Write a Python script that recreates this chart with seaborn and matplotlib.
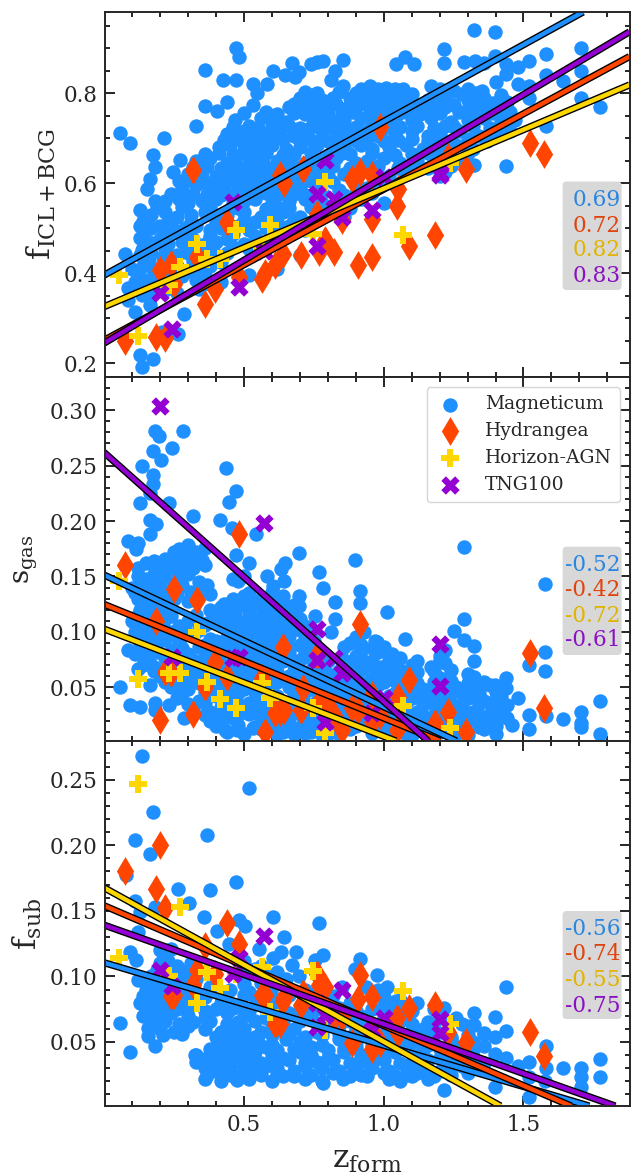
import numpy as np
import pandas as pd
import matplotlib
matplotlib.use("Agg")
import matplotlib.pyplot as plt
import matplotlib.patheffects as pe
from matplotlib.patches import FancyBboxPatch
from matplotlib.ticker import MultipleLocator
from matplotlib.transforms import IdentityTransform
import seaborn as sns

sims = ["Magneticum", "Hydrangea", "Horizon-AGN", "TNG100"]
sim_colors = ["dodgerblue", "orangered", "gold", "darkviolet"]
text_colors = ["#2a86e0", "#e0440e", "#e0b400", "#8a10c4"]
sim_markers = ["o", "d", "P", "X"]
sim_sizes = [108, 215, 175, 175]

# ---------- Magneticum: (z_form, value) pairs read per panel ----------
mag_top = [
 (.058,.712),(.094,.690),(.213,.701),(.175,.662),(.184,.636),(.247,.625),(.273,.651),(.165,.608),(.155,.586),(.184,.561),
 (.13,.539),(.13,.505),(.13,.478),(.076,.443),(.137,.451),(.086,.366),(.086,.34),(.112,.314),(.137,.351),(.165,.329),
 (.13,.218),(.137,.192),(.175,.21),(.266,.265),(.285,.31),(.209,.27),(.518,.396),(.618,.408),(.328,.726),(.36,.852),
 (.472,.90),(.482,.88),(.424,.828),(.472,.83),(.36,.772),(.403,.761),(.439,.78),(.532,.82),(.547,.80),(.532,.773),
 (.583,.82),(.604,.85),(.647,.84),(.673,.867),(.698,.847),(.683,.836),(.741,.865),(.763,.868),(.784,.872),(.856,.874),
 (.827,.849),(.813,.83),(.856,.815),(1.043,.865),(1.077,.881),(1.11,.864),(1.216,.898),(1.324,.94),(1.399,.935),(1.216,.866),
 (1.288,.87),(1.327,.872),(1.36,.866),(1.399,.883),(1.436,.865),(1.436,.843),(1.479,.858),(1.518,.872),(1.579,.886),(1.579,.839),
 (1.705,.9),(1.705,.848),(1.643,.826),(1.705,.79),(1.773,.77),(1.579,.726),(1.436,.637),(1.324,.641),(1.518,.79),(1.518,.816),
 (1.479,.82),(1.44,.78),(1.4,.824),
 (.92,.81),(.95,.815),(.98,.81),(1.01,.812),(1.04,.808),(1.07,.81),(1.17,.815),(1.2,.81),(1.25,.805),(1.3,.81),(1.35,.805),
 (.70,.79),(.74,.795),(.78,.785),(.82,.79),(.88,.79),(.92,.785),(.96,.79),(1.0,.795),(1.04,.785),(1.08,.79),(1.16,.785),(1.22,.79),(1.3,.785),(1.36,.79),(1.42,.795),
 (.66,.77),(.72,.765),(.8,.77),(.86,.765),(.9,.77),(.95,.765),(1.0,.77),(1.03,.765),(1.08,.77),(1.17,.765),(1.22,.77),(1.3,.765),(1.37,.77),(1.42,.76),
 (.47,.74),(.56,.745),(.6,.74),(.65,.735),(.75,.74),(.78,.745),(.83,.735),(.86,.74),(.92,.745),(.98,.74),(1.02,.735),(1.1,.74),(1.17,.745),(1.24,.735),(1.3,.74),(1.36,.745),(1.42,.735),(1.47,.74),
 (.44,.71),(.5,.715),(.53,.705),(.58,.71),(.62,.715),(.68,.705),(.72,.71),(.78,.715),(.84,.705),(.88,.71),(.94,.715),(.98,.705),(1.04,.71),(1.1,.715),(1.16,.705),(1.2,.71),(1.27,.715),(1.34,.705),(1.4,.71),(1.45,.715),
 (.41,.68),(.45,.685),(.5,.675),(.55,.68),(.6,.685),(.65,.675),(.7,.68),(.76,.685),(.82,.675),(.86,.68),(.92,.685),(.96,.675),(1.02,.68),(1.08,.685),(1.14,.675),(1.2,.68),(1.26,.685),(1.32,.675),
 (.33,.65),(.38,.655),(.44,.645),(.47,.65),(.52,.655),(.57,.645),(.62,.65),(.66,.655),(.72,.645),(.77,.65),(.83,.655),(.9,.645),(.94,.65),(1.0,.655),(1.06,.645),(1.12,.65),(1.18,.655),(1.24,.645),(1.28,.65),
 (.3,.62),(.35,.625),(.4,.615),(.45,.62),(.48,.625),(.52,.615),(.56,.62),(.6,.625),(.66,.615),(.72,.62),(.76,.625),(.8,.615),(.86,.62),(.96,.625),(1.02,.615),(1.08,.62),(1.2,.615),(1.22,.625),
 (.28,.59),(.33,.595),(.38,.585),(.42,.59),(.48,.595),(.52,.585),(.56,.59),(.62,.595),(.66,.585),(.7,.59),(.76,.595),(.84,.585),(.94,.59),(1.04,.595),
 (.22,.56),(.27,.565),(.3,.555),(.35,.56),(.4,.565),(.46,.555),(.5,.56),(.54,.565),(.6,.555),(.66,.56),(.72,.565),(.78,.555),(.84,.56),(.92,.565),(1.0,.555),
 (.17,.53),(.22,.535),(.26,.525),(.31,.53),(.36,.535),(.4,.525),(.44,.53),(.5,.535),(.56,.525),(.6,.53),(.64,.535),(.7,.525),(.76,.53),(.82,.535),(.86,.525),
 (.17,.50),(.2,.505),(.25,.495),(.29,.50),(.33,.505),(.38,.495),(.42,.50),(.48,.505),(.52,.495),(.58,.50),(.66,.505),(.72,.495),
 (.16,.47),(.2,.475),(.23,.465),(.28,.47),(.32,.475),(.36,.465),(.4,.47),(.44,.475),(.5,.465),(.56,.47),(.62,.475),
 (.13,.44),(.17,.445),(.21,.435),(.26,.44),(.3,.445),(.35,.435),(.4,.44),(.44,.445),(.7,.44),
 (.1,.41),(.14,.415),(.18,.405),(.22,.41),(.26,.415),(.3,.405),(.34,.41),(.38,.415),
 (.11,.38),(.15,.385),(.19,.375),(.24,.38),(.33,.385),(.38,.375),(.42,.38),(.16,.35),(.26,.355),
]
mag_top_more = [
 (.9,.80),(.94,.802),(.97,.798),(1.03,.80),(1.06,.803),(1.1,.798),(1.19,.80),(1.23,.802),(1.28,.798),(1.33,.80),(.72,.803),(.76,.80),(.84,.802),
 (.68,.775),(.74,.778),(.77,.772),(.83,.776),(.88,.774),(.93,.778),(.97,.772),(1.01,.775),(1.05,.778),(1.1,.772),(1.14,.775),(1.2,.777),(1.25,.773),(1.33,.775),(1.39,.777),
 (.5,.755),(.58,.757),(.62,.753),(.68,.756),(.72,.754),(.76,.757),(.8,.753),(.85,.755),(.89,.757),(.95,.753),(1.0,.756),(1.05,.754),(1.08,.757),(1.13,.753),(1.2,.755),(1.27,.757),(1.33,.753),(1.39,.755),(1.45,.757),
 (.46,.725),(.52,.727),(.55,.723),(.6,.726),(.64,.724),(.66,.727),(.7,.723),(.74,.725),(.8,.727),(.82,.723),(.86,.726),(.9,.724),(.96,.727),(1.0,.723),(1.06,.725),(1.12,.727),(1.18,.723),(1.22,.726),(1.25,.724),(1.32,.727),(1.38,.723),(1.43,.725),
 (.43,.695),(.48,.697),(.52,.693),(.56,.696),(.6,.694),(.64,.697),(.7,.693),(.74,.695),(.78,.697),(.8,.693),(.84,.696),(.9,.694),(.94,.697),(1.0,.693),(1.05,.695),(1.1,.697),(1.16,.693),(1.18,.696),(1.24,.694),(1.3,.697),(1.37,.693),
 (.36,.665),(.41,.667),(.46,.663),(.5,.666),(.54,.664),(.58,.667),(.64,.663),(.68,.665),(.74,.667),(.8,.663),(.85,.666),(.88,.664),(.96,.667),(1.04,.663),(1.1,.665),(1.16,.667),(1.22,.663),(1.3,.666),
 (.32,.635),(.37,.637),(.42,.633),(.46,.636),(.5,.634),(.54,.637),(.58,.633),(.64,.635),(.68,.637),(.7,.633),(.74,.636),(.78,.634),(.82,.637),(.88,.633),(.93,.635),(.98,.637),(1.05,.633),(1.1,.636),(1.16,.634),(1.24,.637),
 (.27,.605),(.31,.607),(.36,.603),(.4,.606),(.44,.604),(.5,.607),(.54,.603),(.58,.605),(.6,.607),(.64,.603),(.68,.606),(.74,.604),(.78,.607),(.82,.603),(.9,.605),(.98,.607),(1.0,.603),
 (.24,.575),(.28,.577),(.32,.573),(.37,.576),(.42,.574),(.44,.577),(.48,.573),(.52,.575),(.58,.577),(.62,.573),(.68,.576),(.72,.574),(.78,.577),(.86,.573),(.9,.575),(.96,.577),
 (.19,.547),(.28,.546),(.38,.547),(.48,.545),(.58,.543),(.62,.546),(.66,.544),(.74,.547),(.8,.543),(.88,.545),
 (.14,.515),(.23,.513),(.31,.514),(.4,.513),(.5,.517),(.54,.513),(.6,.516),(.62,.514),(.68,.517),(.74,.513),
 (.14,.485),(.22,.483),(.3,.484),(.38,.483),(.46,.487),(.54,.483),(.6,.486),(.64,.484),
 (.14,.455),(.22,.453),(.3,.454),(.38,.453),(.46,.457),(.52,.453),
 (.16,.427),(.24,.426),(.32,.427),(.42,.425),
 (.12,.395),(.2,.393),(.28,.394),(.36,.393),
 (.13,.365),(.22,.363),(.34,.364),
]
mag_mid = [
 (.283,.2816),(.184,.2813),(.197,.277),(.245,.266),(.176,.263),(.204,.255),(.137,.25),(.176,.242),(.176,.233),(.165,.225),
 (.233,.216),(.13,.216),(.436,.248),(.472,.227),(.446,.217),(.317,.205),(.414,.201),(.165,.201),(.187,.197),(.165,.188),
 (.458,.1935),(.544,.188),(.086,.182),(.122,.18),(.115,.175),(.698,.1715),(1.288,.177),(.899,.165),(1.578,.143),(.77,.154),
 (.647,.162),(.633,.157),(.518,.162),(.472,.169),(.645,.146),(.583,.15),(.604,.141),(.784,.14),(.917,.137),(.917,.126),
 (.827,.127),(.698,.132),(.698,.123),(1.012,.118),(.755,.114),(.827,.112),(.813,.0996),(.931,.0996),(1.252,.101),(1.288,.093),
 (1.288,.112),(1.324,.0876),(1.324,.0738),(1.076,.0936),(.978,.091),(1.216,.083),(1.578,.082),(1.578,.065),(1.518,.07),(1.773,.0377),
 (1.773,.0076),(1.705,.028),(1.705,.0175),(1.705,.0145),(1.643,.021),(1.579,.0245),(1.518,.025),(1.518,.012),(1.479,.04),(1.436,.058),
 (1.436,.049),(1.399,.052),(1.36,.0536),(1.324,.0596),(.058,.0506),(.086,.0837),(.122,.0665),(.165,.052),(.094,.034),(.13,.0325),
 (.184,.0355),(.184,.0295),(.233,.034),(.285,.0226),(.532,.013),(.432,.0115),(.475,.0115),
 (.25,.172),(.27,.175),(.3,.178),(.33,.172),(.36,.176),
 (.12,.158),(.15,.162),(.2,.158),(.24,.16),(.26,.156),(.29,.162),(.32,.158),(.36,.16),
 (.12,.15),(.15,.148),(.18,.152),(.22,.15),(.27,.148),(.3,.152),(.46,.148),(.5,.15),
 (.1,.14),(.13,.138),(.17,.142),(.2,.14),(.24,.138),(.28,.142),(.36,.138),(.37,.142),
 (.12,.13),(.15,.128),(.18,.132),(.25,.13),(.3,.128),(.46,.13),(.5,.132),(.53,.128),(.56,.13),(.64,.132),
 (.13,.12),(.17,.118),(.2,.122),(.38,.12),(.42,.122),(.47,.118),(.52,.12),(.56,.122),(.6,.118),(.64,.12),(.66,.122),
 (.1,.11),(.16,.108),(.22,.112),(.3,.11),(.37,.108),(.41,.112),(.48,.11),(.5,.108),(.55,.112),(.6,.11),(.66,.108),(.7,.112),
 (.11,.10),(.15,.098),(.19,.102),(.24,.10),(.3,.098),(.34,.102),(.48,.10),(.52,.098),(.56,.102),(.6,.10),(.64,.098),(.7,.102),(.74,.10),
 (.13,.09),(.17,.088),(.2,.092),(.27,.09),(.36,.088),(.4,.092),(.46,.09),(.52,.088),(.58,.092),(.63,.09),(.7,.088),(.75,.092),(.88,.09),(.92,.088),(.97,.092),
 (.11,.08),(.15,.078),(.19,.082),(.3,.08),(.36,.078),(.42,.082),(.5,.08),(.56,.078),(.66,.082),(.72,.08),(.9,.078),(.98,.082),(1.03,.08),(1.2,.078),
 (.14,.07),(.18,.068),(.24,.072),(.3,.07),(.34,.068),(.42,.072),(.48,.07),(.54,.068),(.6,.072),(.68,.07),(.76,.068),(.88,.072),(.94,.07),(.99,.068),(1.04,.072),(1.1,.07),(1.17,.068),(1.22,.072),
 (.2,.06),(.3,.058),(.36,.062),(.44,.06),(.52,.058),(.6,.062),(.66,.06),(.72,.058),(.8,.062),(.9,.06),(.96,.058),(1.02,.062),(1.08,.06),(1.2,.058),(1.3,.062),
 (.24,.05),(.3,.048),(.38,.052),(.44,.05),(.5,.048),(.58,.052),(.66,.05),(.74,.048),(.8,.052),(.86,.05),(.92,.048),(.98,.052),(1.06,.05),(1.14,.048),(1.2,.052),(1.26,.05),(1.32,.048),(1.38,.052),
 (.26,.04),(.34,.038),(.4,.042),(.46,.04),(.56,.038),(.62,.042),(.7,.04),(.76,.038),(.82,.042),(.88,.04),(.94,.038),(1.02,.042),(1.1,.04),(1.16,.038),(1.22,.042),(1.3,.04),(1.36,.038),(1.42,.042),
 (.32,.03),(.38,.028),(.42,.032),(.5,.03),(.54,.028),(.6,.032),(.68,.03),(.74,.028),(.8,.032),(.86,.03),(.92,.028),(1.0,.032),(1.06,.03),(1.12,.028),(1.2,.032),(1.26,.03),(1.32,.028),(1.4,.032),
 (.38,.02),(.42,.018),(.46,.022),(.56,.02),(.62,.018),(.66,.022),(.72,.02),(.78,.018),(.84,.022),(.92,.02),(.98,.018),(1.04,.022),(1.1,.02),(1.16,.018),(1.24,.022),(1.3,.02),(1.36,.018),(1.44,.022),
 (.44,.01),(.5,.008),(.56,.012),(.64,.01),(.68,.008),(.7,.012),(.74,.01),(.8,.008),(.88,.012),(1.02,.01),(1.08,.008),(1.14,.012),(1.2,.01),(1.26,.008),(1.36,.012),
]
mag_mid_more = [
 (.26,.165),(.29,.167),(.32,.163),(.35,.165),(.22,.166),(.18,.164),
 (.14,.145),(.2,.146),(.25,.144),(.34,.145),(.48,.146),
 (.11,.135),(.15,.136),(.22,.134),(.26,.135),(.31,.136),(.38,.134),(.52,.135),(.6,.136),
 (.14,.125),(.16,.126),(.22,.124),(.43,.125),(.45,.126),(.5,.124),(.58,.125),(.62,.126),(.68,.124),
 (.12,.115),(.19,.116),(.24,.114),(.33,.115),(.4,.116),(.44,.114),(.52,.115),(.58,.116),(.62,.114),(.68,.115),
 (.13,.105),(.18,.106),(.21,.104),(.27,.105),(.36,.106),(.44,.104),(.46,.105),(.52,.106),(.54,.104),(.58,.105),(.62,.106),(.68,.104),(.72,.105),
 (.12,.095),(.16,.096),(.22,.094),(.26,.095),(.32,.096),(.38,.094),(.44,.095),(.5,.096),(.56,.094),(.62,.095),(.66,.096),(.72,.094),(.9,.095),
 (.14,.085),(.18,.086),(.24,.084),(.28,.085),(.34,.086),(.4,.084),(.44,.085),(.48,.086),(.54,.084),(.6,.085),(.66,.086),(.72,.084),(.76,.085),(.86,.086),(.92,.084),(.96,.085),(1.0,.086),(1.22,.084),
 (.16,.075),(.22,.076),(.28,.074),(.32,.075),(.38,.076),(.46,.074),(.52,.075),(.58,.076),(.64,.074),(.7,.075),(.74,.076),(.8,.074),(.86,.075),(.92,.076),(.96,.074),(1.02,.075),(1.06,.076),(1.12,.074),(1.2,.075),
 (.18,.065),(.22,.066),(.26,.064),(.32,.065),(.4,.066),(.46,.064),(.5,.065),(.56,.066),(.62,.064),(.68,.065),(.74,.066),(.78,.064),(.84,.065),(.92,.066),(.98,.064),(1.0,.065),(1.06,.066),(1.12,.064),(1.18,.065),(1.24,.066),
 (.22,.055),(.28,.056),(.34,.054),(.4,.055),(.48,.056),(.54,.054),(.62,.055),(.7,.056),(.76,.054),(.84,.055),(.88,.056),(.94,.054),(1.0,.055),(1.04,.056),(1.12,.054),(1.18,.055),(1.24,.056),(1.3,.054),(1.36,.055),
 (.28,.045),(.36,.046),(.42,.044),(.48,.045),(.54,.046),(.6,.044),(.68,.045),(.72,.046),(.78,.044),(.84,.045),(.9,.046),(.96,.044),(1.04,.045),(1.08,.046),(1.12,.044),(1.18,.045),(1.24,.046),(1.28,.044),(1.34,.045),(1.4,.046),
 (.3,.035),(.36,.036),(.44,.034),(.48,.035),(.52,.036),(.58,.034),(.64,.035),(.72,.036),(.78,.034),(.84,.035),(.9,.036),(.96,.034),(1.04,.035),(1.08,.036),(1.14,.034),(1.18,.035),(1.24,.036),(1.28,.034),(1.34,.035),(1.38,.036),(1.44,.034),
 (.36,.025),(.4,.026),(.44,.024),(.48,.025),(.52,.026),(.58,.024),(.64,.025),(.7,.026),(.76,.024),(.82,.025),(.88,.026),(.94,.024),(1.0,.025),(1.08,.026),(1.14,.024),(1.18,.025),(1.22,.026),(1.28,.024),(1.34,.025),(1.38,.026),(1.42,.024),
 (.4,.015),(.48,.016),(.54,.014),(.6,.015),(.66,.016),(.7,.014),(.76,.015),(.82,.016),(.86,.014),(.9,.015),(.96,.016),(1.0,.014),(1.06,.015),(1.12,.016),(1.18,.014),(1.22,.015),(1.28,.016),(1.34,.014),(1.4,.015),(1.46,.016),
 (.62,.008),(.72,.009),(.78,.007),(.84,.008),(.96,.009),(1.1,.007),(1.18,.008),(1.24,.009),(1.3,.007),(1.4,.008),
]
mag_bot = [
 (.137,.268),(.518,.244),(.175,.225),(.367,.208),(.112,.204),(.165,.193),(.472,.172),(.263,.1665),(.378,.166),(.079,.177),
 (.112,.1575),(.305,.156),(.184,.153),(.13,.149),(.357,.145),(.604,.145),(.77,.1405),(.482,.143),(.506,.1385),(.403,.135),
 (.122,.134),(.645,.13),(.446,.125),(.554,.121),(.633,.119),(.686,.119),(.604,.114),(.784,.116),(.917,.113),(.755,.1125),
 (.094,.119),(.115,.1125),(.673,.109),(.619,.1035),(.896,.1057),(.698,.1),(.978,.101),(.122,.097),(.938,.092),(1.012,.0917),
 (1.436,.0917),(1.043,.081),(1.216,.0757),(1.324,.072),(1.399,.069),(.058,.0647),(.094,.042),(.158,.0604),(.158,.0546),(.184,.047),
 (1.324,.063),(1.36,.0566),(1.399,.054),(1.436,.0586),(1.579,.047),(1.36,.047),(1.399,.041),(1.436,.038),(1.479,.032),(1.518,.0345),
 (1.518,.0078),(1.579,.03),(1.643,.03),(1.705,.03),(1.705,.023),(1.705,.016),(1.773,.037),(1.773,.023),(1.576,.02),(1.518,.023),
 (1.399,.0154),(1.216,.0134),(.475,.021),(.784,.0185),(.856,.022),(.324,.04),
 (.2,.11),(.23,.112),(.26,.108),(.31,.11),(.5,.112),(.56,.108),
 (.17,.10),(.2,.098),(.24,.102),(.29,.10),(.33,.098),(.5,.102),(.58,.10),(.65,.098),
 (.15,.09),(.19,.088),(.22,.092),(.27,.09),(.31,.088),(.38,.092),(.45,.09),(.52,.088),(.6,.092),(.72,.09),(.76,.088),(.85,.092),(.98,.09),
 (.13,.08),(.17,.078),(.2,.082),(.24,.08),(.28,.078),(.34,.082),(.42,.08),(.48,.078),(.55,.082),(.62,.08),(.72,.078),(.8,.082),(.88,.08),(1.0,.078),(1.06,.082),(1.12,.08),
 (.14,.07),(.19,.068),(.24,.072),(.3,.07),(.36,.068),(.44,.072),(.5,.07),(.58,.068),(.66,.072),(.74,.07),(.8,.068),(.86,.072),(.92,.07),(1.0,.068),(1.08,.072),(1.2,.07),(1.26,.068),
 (.2,.06),(.25,.058),(.3,.062),(.36,.06),(.42,.058),(.46,.062),(.5,.06),(.56,.058),(.62,.062),(.68,.06),(.76,.058),(.84,.062),(.9,.06),(.96,.058),(1.02,.062),(1.14,.06),(1.2,.058),(1.3,.062),
 (.42,.05),(.46,.048),(.5,.052),(.55,.05),(.6,.048),(.65,.052),(.7,.05),(.78,.048),(.84,.052),(.9,.05),(.96,.048),(1.04,.052),(1.1,.05),(1.16,.048),(1.24,.052),(1.32,.05),
 (.33,.04),(.37,.038),(.4,.042),(.44,.04),(.48,.038),(.54,.042),(.6,.04),(.64,.038),(.7,.042),(.74,.04),(.8,.038),(.86,.042),(.92,.04),(.98,.038),(1.04,.042),(1.12,.04),(1.2,.038),(1.28,.042),
 (.36,.03),(.4,.028),(.45,.032),(.5,.03),(.54,.028),(.58,.032),(.62,.03),(.68,.028),(.72,.032),(.78,.03),(.84,.028),(.9,.032),(.96,.03),(1.02,.028),(1.08,.032),(1.14,.03),(1.2,.028),(1.28,.032),
 (.36,.022),(.42,.02),(.46,.024),(.52,.022),(.6,.02),(.64,.024),(.72,.022),(.78,.02),(.94,.024),(1.02,.022),(1.06,.02),(1.1,.024),(1.16,.022),
]
mag_bot_more = [
 (.2,.12),(.24,.121),
 (.19,.105),(.22,.106),(.26,.104),(.3,.105),(.54,.106),
 (.16,.095),(.18,.096),(.22,.094),(.26,.095),(.32,.096),(.5,.094),(.56,.095),(.62,.096),
 (.14,.085),(.18,.086),(.22,.084),(.26,.085),(.3,.086),(.36,.084),(.42,.085),(.5,.086),(.54,.084),(.6,.085),(.66,.086),(.74,.084),(.82,.085),(.96,.086),(1.0,.084),
 (.15,.075),(.18,.076),(.22,.074),(.26,.075),(.3,.076),(.36,.074),(.4,.075),(.46,.076),(.52,.074),(.58,.075),(.64,.076),(.7,.074),(.76,.075),(.84,.076),(.9,.074),(.96,.075),(1.04,.076),(1.1,.074),(1.18,.075),
 (.17,.065),(.22,.066),(.27,.064),(.32,.065),(.38,.066),(.44,.064),(.48,.065),(.54,.066),(.6,.064),(.64,.065),(.7,.066),(.76,.064),(.82,.065),(.88,.066),(.94,.064),(1.0,.065),(1.06,.066),(1.1,.064),(1.16,.065),(1.22,.066),(1.28,.064),
 (.21,.055),(.28,.056),(.4,.054),(.44,.055),(.48,.056),(.54,.054),(.6,.055),(.66,.056),(.72,.054),(.78,.055),(.84,.056),(.88,.054),(.94,.055),(1.0,.056),(1.06,.054),(1.12,.055),(1.18,.056),(1.24,.054),(1.3,.055),(1.36,.056),
 (.38,.045),(.43,.046),(.48,.044),(.52,.045),(.58,.046),(.62,.044),(.68,.045),(.74,.046),(.8,.044),(.86,.045),(.9,.046),(.96,.044),(1.02,.045),(1.08,.046),(1.14,.044),(1.2,.045),(1.26,.046),(1.32,.044),
 (.33,.035),(.38,.036),(.42,.034),(.46,.035),(.52,.036),(.56,.034),(.62,.035),(.66,.036),(.72,.034),(.76,.035),(.82,.036),(.88,.034),(.94,.035),(1.0,.036),(1.06,.034),(1.1,.035),(1.16,.036),(1.22,.034),(1.26,.035),(1.32,.036),(1.36,.034),
 (.37,.025),(.43,.026),(.48,.024),(.56,.025),(.62,.026),(.68,.024),(.74,.025),(.82,.026),(.88,.024),(.92,.025),(1.0,.026),(1.04,.024),(1.08,.025),(1.12,.026),(1.18,.024),(1.24,.025),(1.3,.026),
]

# ---------- Hydrangea ----------
hyd_z = [.077,.185,.202,.219,.238,.252,.317,.331,.363,.396,.439,.483,.566,.576,.612,.641,.630,.645,.706,.713,
         .763,.770,.789,.821,.850,.886,.910,.917,.960,.960,.960,.986,1.048,1.051,1.090,1.185,1.231,1.296,1.523,1.573]
hyd_top = [.250,.258,.406,.256,.421,.376,.630,.436,.332,.365,.513,.391,.387,.400,.417,.443,.617,.599,.441,.632,
           .532,.447,.473,.447,.517,.610,.417,.624,.436,.617,.521,.724,.548,.587,.461,.484,.658,.632,.689,.665]
hyd_mid = [.160,.110,.0205,.064,.0626,.139,.0256,.129,.0506,.073,.0596,.188,.0587,.010,.0265,.0867,.028,.0295,.0295,.049,
           .079,.037,.0356,.025,.0115,.031,.0295,.107,.043,.025,.019,.025,.0115,.0416,.0566,.0175,.0274,.010,.0807,.0316]
hyd_bot = [.180,.167,.200,.152,.085,.086,.0935,.105,.123,.102,.1405,.125,.086,.086,.064,.081,.064,.0846,.078,.087,
           .102,.0935,.092,.069,.069,.049,.083,.101,.0846,.045,.059,.049,.068,.0566,.0757,.078,.058,.050,.058,.039]

# ---------- Horizon-AGN ----------
hor_z = [.055,.123,.234,.271,.331,.367,.415,.472,.566,.593,.746,.789,1.070,1.239]
hor_top = [.395,.259,.373,.413,.465,.432,.432,.495,.454,.506,.487,.602,.485,.645]
hor_mid = [.146,.0575,.0626,.0626,.100,.0545,.0395,.0316,.0536,.040,.031,.0085,.033,.013]
hor_bot = [.114,.2468,.100,.153,.080,.103,.091,.102,.1075,.073,.104,.059,.089,.064]

# ---------- TNG100 ----------
tng_z = [.202,.242,.461,.483,.572,.760,.760,.792,.821,.850,.960,1.000,1.202,1.202]
tng_top = [.356,.276,.558,.370,.450,.576,.459,.652,.564,.524,.539,.613,.622,.617]
tng_mid = [.304,.0777,.076,.0777,.1986,.103,.0747,.019,.076,.0626,.0265,.040,.0888,.051]
tng_bot = [.105,.0927,.102,.114,.131,.0795,.0617,.0706,.072,.090,.059,.068,.0673,.0566]

# ---------- fit line end points, in plot order Magneticum..TNG100 ----------
fit_top_x = [(0, 1.713), (0, 1.879), (0, 1.879), (0, 1.879)]
fit_top_y = [(.395, .98), (.2505, .881), (.325, .818), (.244, .936)]
fit_mid_x = [(0, 1.26), (0, 1.202), (0, 1.044), (0, 1.159)]
fit_mid_y = [(.1514, .0015), (.1249, .0015), (.1026, .0015), (.262, .0015)]
fit_bot_x = [(0, 1.735), (0, 1.67), (0, 1.418), (0, 1.828)]
fit_bot_y = [(.1105, .0012), (.154, .0012), (.1677, .0012), (.1392, .0012)]

corr_top = ["0.69", "0.72", "0.82", "0.83"]
corr_mid = ["-0.52", "-0.42", "-0.72", "-0.61"]
corr_bot = ["-0.56", "-0.74", "-0.55", "-0.75"]

ylabels = [r"$\mathrm{f_{ICL+BCG}}$", r"$\mathrm{s_{gas}}$", r"$\mathrm{f_{sub}}$"]
ylabel_sizes = [23, 20, 22.5]
ylabel_right_px = [58, 40, 44]
ylims = [(.169, .98), (.0015, .33), (.0012, .2795)]
y_major = [.2, .05, .05]
y_minor = [.05, .01, .01]
y_fmt = ["%.1f", "%.2f", "%.2f"]
x_label = r"$\mathrm{z_{form}}$"

sns.set_theme(style="ticks")
plt.rcParams["font.family"] = ["DejaVu Serif"]
plt.rcParams["mathtext.fontset"] = "dejavuserif"

W, H = 631, 1173
fig = plt.figure(figsize=(W / 100, H / 100), dpi=100)
pane_px = [(12, 377), (377, 741), (741, 1106)]
L, R = 104.5, 629.5
axes = [fig.add_axes([L / W, 1 - b / H, (R - L) / W, (b - t) / H]) for t, b in pane_px]

panels = [
    (mag_top + mag_top_more, hyd_top, hor_top, tng_top, fit_top_x, fit_top_y, corr_top),
    (mag_mid + mag_mid_more, hyd_mid, hor_mid, tng_mid, fit_mid_x, fit_mid_y, corr_mid),
    (mag_bot + mag_bot_more, hyd_bot, hor_bot, tng_bot, fit_bot_x, fit_bot_y, corr_bot),
]
box_px = [(181.5, 290), (546.7, 655), (911, 1019)]
text_px = [(197, 223, 248, 274), (562.7, 588, 613, 638), (926.7, 952, 977.7, 1003)]
text_right = 620.5

for i, (ax, p) in enumerate(zip(axes, panels)):
    mag, hyd, hor, tng, fx, fy, corr = p
    mdf = pd.DataFrame(mag, columns=["z", "v"])
    groups = [(mdf["z"], mdf["v"]), (hyd_z, hyd), (hor_z, hor), (tng_z, tng)]
    for j, (gx, gy) in enumerate(groups):
        sns.scatterplot(x=gx, y=gy, ax=ax, color=sim_colors[j], marker=sim_markers[j], s=sim_sizes[j],
                        linewidth=0, alpha=1, legend=False, zorder=3 + j)
    for j in range(4):
        sns.lineplot(x=list(fx[j]), y=list(fy[j]), ax=ax, color=sim_colors[j], linewidth=3.2, legend=False,
                     estimator=None, sort=False, zorder=8 + j, solid_capstyle="butt",
                     path_effects=[pe.withStroke(linewidth=5.2, foreground="black")])
    ax.set_xlim(0.002, 1.879)
    ax.set_ylim(*ylims[i])
    ax.xaxis.set_major_locator(MultipleLocator(.5))
    ax.xaxis.set_minor_locator(MultipleLocator(.1))
    ax.yaxis.set_major_locator(MultipleLocator(y_major[i]))
    ax.yaxis.set_minor_locator(MultipleLocator(y_minor[i]))
    ax.yaxis.set_major_formatter(plt.FormatStrFormatter(y_fmt[i]))
    ax.tick_params(which="both", direction="in", top=True, right=True, width=1.4)
    ax.tick_params(which="major", length=7, labelsize=15.5)
    ax.tick_params(which="minor", length=3.8)
    ax.tick_params(axis="y", which="major", pad=5)
    ax.tick_params(axis="x", which="major", pad=6)
    for s in ax.spines.values():
        s.set_linewidth(1.4)
        s.set_zorder(20)
    ax.set_ylabel(ylabels[i], fontsize=ylabel_sizes[i])
    ax.yaxis.set_label_coords((ylabel_right_px[i] - L) / (R - L), .5)
    ax.set_xlabel("")
    if i < 2:
        ax.tick_params(labelbottom=False)
    top, bottom = box_px[i]
    ax.add_patch(FancyBboxPatch((562.6, H - bottom), 59, bottom - top,
                                boxstyle="round,pad=0,rounding_size=4", transform=IdentityTransform(),
                                facecolor="#d8d8d8", edgecolor="none", zorder=15, clip_on=False))
    for j, c in enumerate(corr):
        yfrac = (pane_px[i][1] - text_px[i][j]) / (pane_px[i][1] - pane_px[i][0])
        xfrac = (text_right - L) / (R - L)
        ax.text(xfrac, yfrac, c, transform=ax.transAxes, color=text_colors[j], fontsize=15.6,
                ha="right", va="center_baseline", zorder=16)

axes[2].set_xlabel(x_label, fontsize=22.5)
axes[2].xaxis.set_label_coords(.5, -.103)

h = [plt.scatter([], [], color=sim_colors[k], marker=sim_markers[k], s=sim_sizes[k], linewidth=0) for k in range(4)]
leg = axes[1].legend(h, sims, loc="upper right", bbox_to_anchor=(.982, .9725), borderaxespad=0,
                     fontsize=13.5, frameon=True, labelspacing=.47, handletextpad=1.05, borderpad=.45, handlelength=1.6)
leg.set_zorder(30)

fig.savefig("out.png", dpi=100)
